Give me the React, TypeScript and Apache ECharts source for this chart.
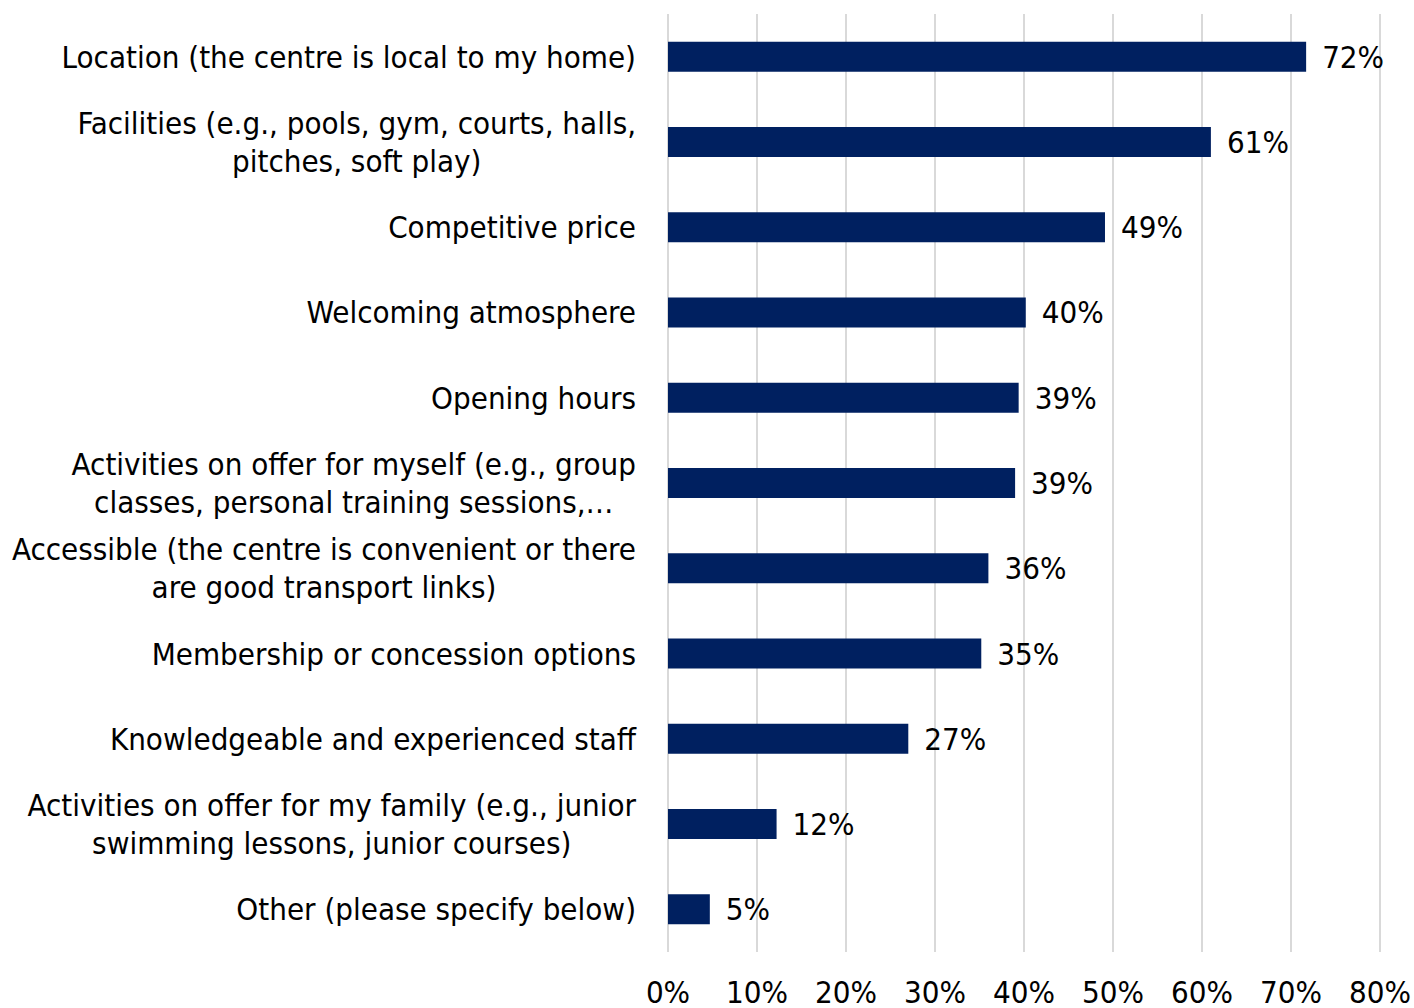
import React, { useEffect, useRef } from "react";
import * as echarts from "echarts";

const categories = [
  "Location (the centre is local to my home)",
  "Facilities (e.g., pools, gym, courts, halls,\npitches, soft play)",
  "Competitive price",
  "Welcoming atmosphere",
  "Opening hours",
  "Activities on offer for myself (e.g., group\nclasses, personal training sessions,…",
  "Accessible (the centre is convenient or there\nare good transport links)",
  "Membership or concession options",
  "Knowledgeable and experienced staff",
  "Activities on offer for my family (e.g., junior\nswimming lessons, junior courses)",
  "Other (please specify below)",
];

const values = [71.7, 61.0, 49.1, 40.2, 39.4, 39.0, 36.0, 35.2, 27.0, 12.2, 4.7];
const valueLabels = ["72%", "61%", "49%", "40%", "39%", "39%", "36%", "35%", "27%", "12%", "5%"];

const xTicks = [0, 10, 20, 30, 40, 50, 60, 70, 80];

const FONT = '"DejaVu Sans Condensed", "DejaVu Sans", Tahoma, sans-serif';
const FS = 31;

export default function App() {
  const ref = useRef<HTMLDivElement>(null);
  useEffect(() => {
    if (!ref.current) return;
    const chart = echarts.init(ref.current, null, { renderer: "svg" });
    chart.setOption({
      animation: false,
      backgroundColor: "#ffffff",
      grid: { left: 668, right: 34, top: 14, bottom: 56, containLabel: false },
      xAxis: {
        type: "value",
        min: xTicks[0],
        max: xTicks[xTicks.length - 1],
        interval: 10,
        axisLine: { show: false },
        axisTick: { show: false },
        splitLine: { show: true, lineStyle: { color: "#d9d9d9", width: 2 } },
        axisLabel: {
          formatter: (v: number) => `${v}%`,
          color: "#000000",
          fontFamily: FONT,
          fontSize: FS,
          margin: 24,
        },
      },
      yAxis: {
        type: "category",
        data: categories,
        inverse: true,
        axisLine: { show: false },
        axisTick: { show: false },
        splitLine: { show: false },
        axisLabel: {
          margin: 32,
          interval: 0,
          color: "#000000",
          fontFamily: FONT,
          fontSize: FS,
          lineHeight: 38,
          formatter: (v: string) =>
            v
              .split("\n")
              .map((l) => `{c|${l}}`)
              .join("\n"),
          rich: {
            c: {
              align: "center",
              color: "#000000",
              fontFamily: FONT,
              fontSize: FS,
              lineHeight: 38,
            },
          },
        },
      },
      series: [
        {
          type: "bar",
          data: values,
          barWidth: 30,
          itemStyle: { color: "#002060" },
          label: {
            show: true,
            position: "right",
            distance: 16,
            color: "#000000",
            fontFamily: FONT,
            fontSize: FS,
            formatter: (p: any) => valueLabels[p.dataIndex],
          },
        },
      ],
    });
    return () => chart.dispose();
  }, []);
  return (
    <div
      ref={ref}
      style={{ position: "fixed", left: 0, top: 0, width: 1414, height: 1008 }}
    />
  );
}
